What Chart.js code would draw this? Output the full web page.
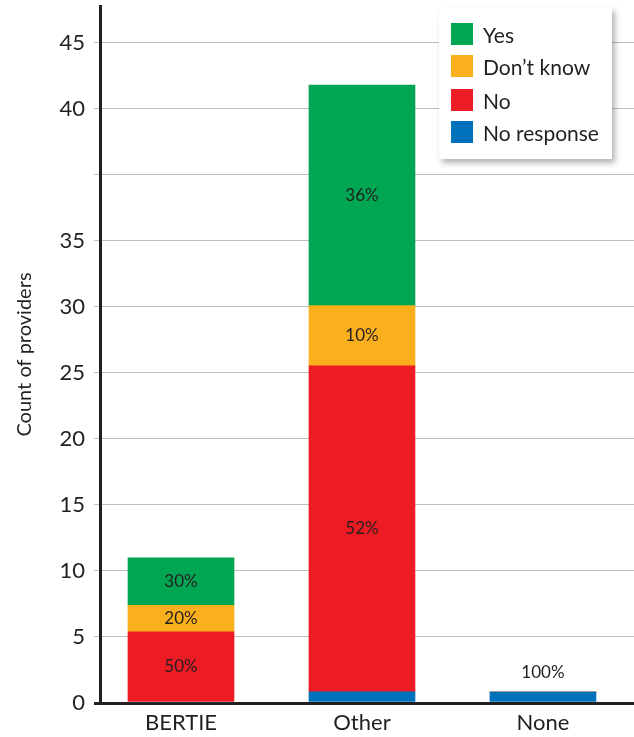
<!DOCTYPE html>
<html>
<head>
<meta charset="utf-8">
<script src="https://cdn.jsdelivr.net/npm/chart.js@4"></script>
<style>
  body { margin: 0; background: #fff; font-family: Lato, sans-serif; }
  #wrap { position: relative; width: 634px; height: 737px; }
  #legend {
    position: absolute; left: 439px; top: 7px; width: 173px; height: 152px;
    background: #fff; box-shadow: 3px 4px 6px rgba(0,0,0,0.3);
  }
  .item { position: absolute; left: 12px; height: 22px; display: flex; align-items: center; }
  .sw { width: 22px; height: 22px; margin-right: 10px; }
  .lbl { font-size: 21px; color: #231f20; white-space: nowrap; }
</style>
</head>
<body>
<div id="wrap">
  <canvas id="chart"></canvas>
  <div id="legend"></div>
</div>
<script>
const categories = ["BERTIE", "Other", "None"];

// counts (stacked bottom-up: no response, no, don't know, yes)
const noResponse = [0, 0.85, 0.83];
const no = [5.4, 24.7, 0];
const dontKnow = [2.0, 4.55, 0];
const yes = [3.6, 16.7, 0];

const pctNoResponse = ["", "", "100%"];
const pctNo = ["50%", "52%", ""];
const pctDontKnow = ["20%", "10%", ""];
const pctYes = ["30%", "36%", ""];

const yTickValues = [0, 5, 10, 15, 20, 25, 30, 35, 40, 45, 50];
const yTickLabels = ["0", "5", "10", "15", "20", "25", "30", "35", "", "40", "45"];

const colors = {
  yes: "#00a651",
  dontKnow: "#faaf1d",
  no: "#ed1c24",
  noResponse: "#0072bc",
};
const textColor = "#231f20";

const toPoints = (arr) => arr.map((v, i) => ({ x: i, y: v }));

const datasets = [
  { label: "No response", data: toPoints(noResponse), backgroundColor: colors.noResponse, pct: pctNoResponse },
  { label: "No", data: toPoints(no), backgroundColor: colors.no, pct: pctNo },
  { label: "Don\u2019t know", data: toPoints(dontKnow), backgroundColor: colors.dontKnow, pct: pctDontKnow },
  { label: "Yes", data: toPoints(yes), backgroundColor: colors.yes, pct: pctYes },
];

// percentage labels inside the segments (or above a thin one)
const pctLabels = {
  id: "pctLabels",
  afterDatasetsDraw(chart) {
    const ctx = chart.ctx;
    ctx.save();
    ctx.font = "17px Lato";
    ctx.fillStyle = textColor;
    ctx.textAlign = "center";
    ctx.textBaseline = "middle";
    chart.data.datasets.forEach((ds, di) => {
      chart.getDatasetMeta(di).data.forEach((bar, i) => {
        const txt = ds.pct[i];
        if (!txt) return;
        const { x, y, base } = bar.getProps(["x", "y", "base"], true);
        const h = base - y;
        const ty = h < 24 ? y - 20 : (y + base) / 2;
        ctx.fillText(txt, x, ty);
      });
    });
    ctx.restore();
  },
};

new Chart(document.getElementById("chart"), {
  type: "bar",
  data: { datasets },
  plugins: [pctLabels],
  options: {
    responsive: true,
    maintainAspectRatio: false,
    animation: false,
    layout: { padding: { top: 6, right: 0, left: 0, bottom: 0 } },
    plugins: {
      legend: { display: false },
      tooltip: { enabled: false },
    },
    datasets: { bar: { barThickness: 106 } },
    scales: {
      x: {
        type: "linear",
        stacked: true,
        offset: false,
        min: -0.4475,
        max: 2.503,
        afterBuildTicks: (s) => { s.ticks = categories.map((c, i) => ({ value: i })); },
        afterFit: (s) => { s.height = 34; s.paddingLeft = 0; s.paddingRight = 0; },
        ticks: {
          callback: (v) => categories[v],
          font: { family: "Lato", size: 22 },
          color: textColor,
          padding: 7,
          maxRotation: 0,
        },
        grid: { display: false, drawTicks: false, offset: false },
        border: { display: false },
      },
      y: {
        stacked: true,
        min: 0,
        max: 52.8,
        afterBuildTicks: (s) => { s.ticks = yTickValues.map((v) => ({ value: v })); },
        afterFit: (s) => { s.width = 100; s.paddingTop = 0; s.paddingBottom = 0; },
        ticks: {
          callback: (v, i) => yTickLabels[i],
          font: { family: "Lato", size: 22 },
          color: textColor,
          padding: 9,
        },
        grid: {
          color: (c) => (c.tick && c.tick.value === 0 ? textColor : "#bdbdbd"),
          lineWidth: (c) => (c.tick && c.tick.value === 0 ? 3 : 1),
          tickLength: 6,
        },
        border: { display: true, color: textColor, width: 3 },
        title: {
          display: true,
          text: "Count of providers",
          font: { family: "Lato", size: 20 },
          color: textColor,
          padding: { top: 13, bottom: 0 },
        },
      },
    },
  },
});

// html legend, top row first
const legend = document.getElementById("legend");
const tops = [16, 48, 82, 114];
datasets.slice().reverse().forEach((ds, i) => {
  const item = document.createElement("div");
  item.className = "item";
  item.style.top = tops[i] + "px";
  item.innerHTML = '<span class="sw" style="background:' + ds.backgroundColor + '"></span><span class="lbl"></span>';
  item.querySelector(".lbl").textContent = ds.label;
  legend.appendChild(item);
});
</script>
</body>
</html>
